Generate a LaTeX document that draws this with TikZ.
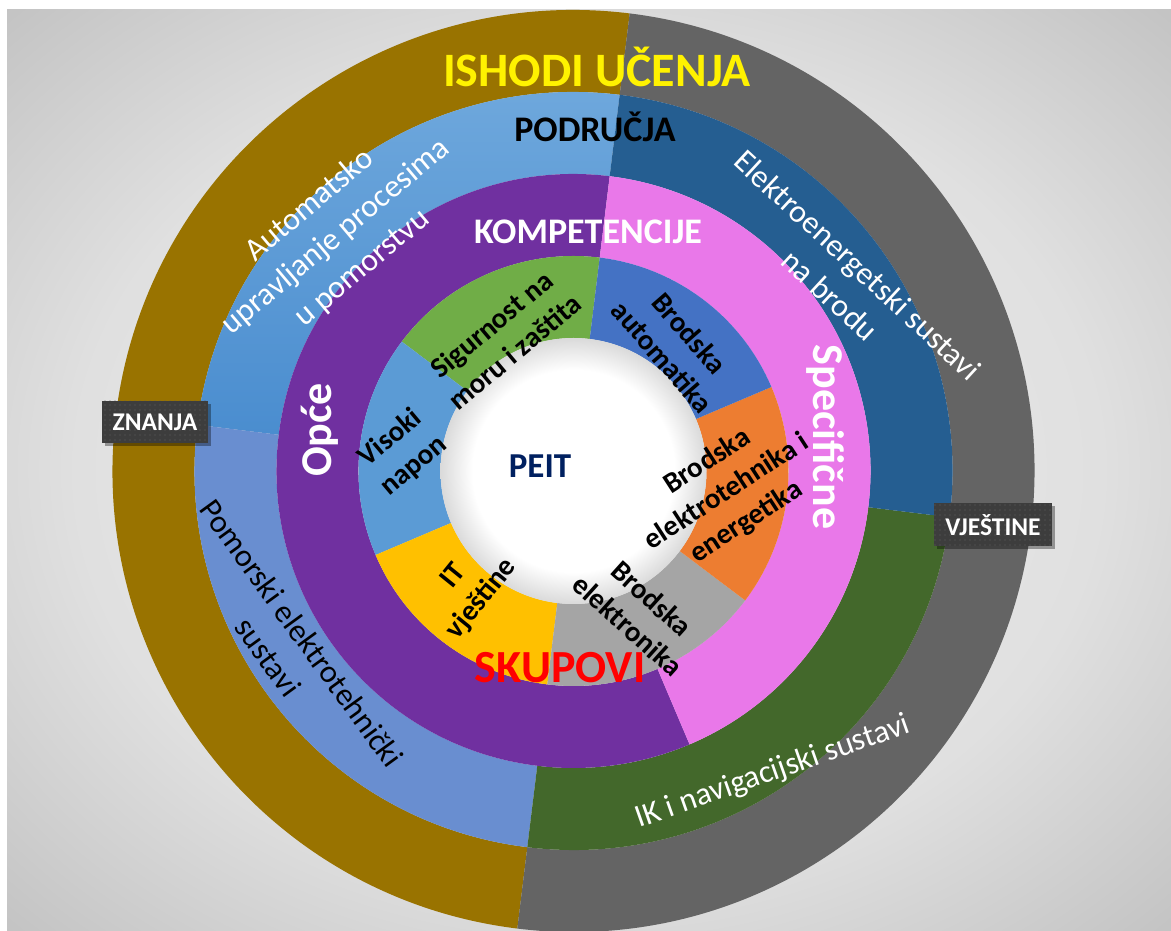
\documentclass[tikz,border=0pt]{standalone}
\usepackage{fontspec}
\setmainfont{Carlito}
\usetikzlibrary{patterns.meta,shadows}
\definecolor{cBrown}{HTML}{997300}
\definecolor{cGrey}{HTML}{646464}
\definecolor{cLbA}{HTML}{70A9DD}
\definecolor{cLbB}{HTML}{4A8DCF}
\definecolor{cMb}{HTML}{698ED0}
\definecolor{cDb}{HTML}{255E91}
\definecolor{cDg}{HTML}{43682B}
\definecolor{cPur}{HTML}{7030A0}
\definecolor{cPink}{HTML}{E978E9}
\definecolor{cGfour}{HTML}{70AD47}
\definecolor{cBfour}{HTML}{4472C4}
\definecolor{cOfour}{HTML}{ED7D31}
\definecolor{cGrfour}{HTML}{A5A5A5}
\definecolor{cYfour}{HTML}{FFC000}
\definecolor{cLbfour}{HTML}{5B9BD5}
\definecolor{cNavy}{HTML}{002060}
\definecolor{cBox}{HTML}{3D3D3D}
\definecolor{cDot}{HTML}{606060}
\definecolor{bgA}{HTML}{EEEEEE}
\definecolor{bgB}{HTML}{E0E0E0}
\definecolor{bgC}{HTML}{C2C2C2}
\definecolor{holeEdge}{HTML}{DADADA}
\pgfdeclareradialshading{holeshade}{\pgfpoint{0bp}{0bp}}{color(0bp)=(white); color(19bp)=(white); color(25bp)=(holeEdge); color(50bp)=(holeEdge)}
\pgfdeclareradialshading{bgshade}{\pgfpoint{0bp}{0bp}}{color(0bp)=(bgA); color(22bp)=(bgB); color(36bp)=(bgC); color(50bp)=(bgC)}
\newcommand{\ringseg}[5]{\path[#1] ([shift={(#2:#4)}]C) arc[start angle=#2,end angle=#3,radius=#4] -- ([shift={(#3:#5)}]C) arc[start angle=#3,end angle=#2,radius=#5] -- cycle;}
\begin{document}
\begin{tikzpicture}[x=1pt,y=1pt,
  ringtwo/.style={text=white, font=\fontsize{32}{41}\selectfont, align=center, inner sep=0pt},
  ringfour/.style={text=black, font=\bfseries\fontsize{29}{36}\selectfont, align=center, inner sep=0pt},
  headtxt/.style={font=\bfseries\fontsize{36}{42}\selectfont, inner sep=0pt},
  lbox/.style={drop shadow={shadow xshift=3pt, shadow yshift=-3pt, opacity=0.35, fill=black},
    preaction={fill=cBox}, pattern={Dots[distance=5pt,radius=0.7pt]}, pattern color=cDot,
    text=white, font=\bfseries\fontsize{25.5}{30}\selectfont, inner sep=0pt}
]
\useasboundingbox (0,0) rectangle (1171,930);
\clip (0,0) rectangle (1171,930);
\fill[white] (0,0) rectangle (1171,930);
\path[shading=bgshade] (7,0) rectangle (1171,920);
\coordinate (C) at (573.5,459);
% outer ring: ISHODI UCENJA
\ringseg{fill=cBrown}{83}{263}{461}{379}
\ringseg{fill=cGrey}{263}{443}{461}{379}
% ring 2: PODRUCJA
\ringseg{top color=cLbA, bottom color=cLbB}{83}{173}{379}{297}
\ringseg{fill=cMb}{173}{263}{379}{297}
\ringseg{fill=cDg}{263}{353}{379}{297}
\ringseg{fill=cDb}{353}{443}{379}{297}
% ring 3: KOMPETENCIJE
\ringseg{fill=cPur}{83}{293}{297}{215}
\ringseg{fill=cPink}{293}{443}{297}{215}
% ring 4: SKUPOVI
\ringseg{fill=cGfour}{83}{143}{215}{133}
\ringseg{fill=cLbfour}{143}{203}{215}{133}
\ringseg{fill=cYfour}{203}{263}{215}{133}
\ringseg{fill=cGrfour}{263}{323}{215}{133}
\ringseg{fill=cOfour}{323}{383}{215}{133}
\ringseg{fill=cBfour}{383}{443}{215}{133}
% centre
\path[shading=holeshade] (C) circle[radius=133];
% headings
\node[font=\bfseries\fontsize{48}{56}\selectfont, text=yellow, inner sep=0pt] (ishodi) at (597,863) {ISHODI UČENJA};
\node[headtxt, text=black] (podrucja) at (595,803) {PODRUČJA};
\node[headtxt, text=white] (kompet) at (588,698) {KOMPETENCIJE};
\node[font=\bfseries\fontsize{46}{52}\selectfont, text=red, inner sep=0pt] (skupovi) at (560,262) {SKUPOVI};
\node[font=\bfseries\fontsize{35}{40}\selectfont, text=cNavy, inner sep=0pt] (peit) at (540,464) {PEIT};
\node[font=\bfseries\fontsize{44}{50}\selectfont, text=white, inner sep=0pt, rotate=90] (opce) at (320,500) {Opće};
\node[font=\bfseries\fontsize{44}{50}\selectfont, text=white, inner sep=0pt, rotate=-90] (specif) at (826,493) {Specifične};
% labels
\node[lbox, minimum width=106pt, minimum height=42pt] (znanja) at (155,508) {ZNANJA};
\node[lbox, minimum width=118pt, minimum height=43pt] (vjestine) at (993,405) {VJEŠTINE};
% ring 2 texts
\node[ringtwo, rotate=40] (automatsko) at (336,693) {Automatsko\\upravljanje procesima\\u pomorstvu};
\node[ringtwo, rotate=-42.7] (elektro) at (844,650) {Elektroenergetski sustavi\\na brodu};
\node[ringtwo, text=black, rotate=-54] (pomorski) at (285,285) {Pomorski elektrotehnički\\sustavi};
\node[ringtwo, rotate=19.4] (ik) at (773,158) {IK i navigacijski sustavi};
% ring 4 texts
\node[ringfour, rotate=40] (sigurnost) at (503,592) {Sigurnost na\\moru i zaštita};
\node[ringfour, rotate=40] (visoki) at (402,478) {Visoki\\napon};
\node[ringfour, rotate=51] (it) at (468,342) {IT\\vještine};
\node[ringfour, rotate=-49] (bauto) at (676,585) {Brodska\\automatika};
\node[ringfour, rotate=33] (belektro) at (727,438) {Brodska\\elektrotehnika i\\energetika};
\node[ringfour, rotate=-42] (belektron) at (640,318) {Brodska\\elektronika};
\end{tikzpicture}
\end{document}
